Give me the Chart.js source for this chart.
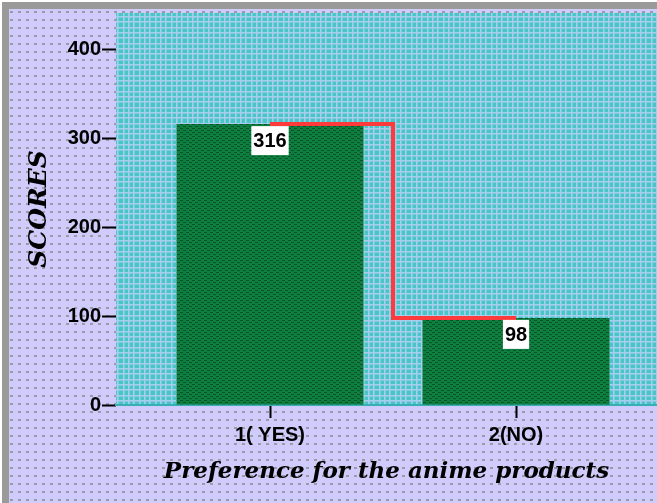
<!DOCTYPE html>
<html>
<head>
<meta charset="utf-8">
<script src="https://cdn.jsdelivr.net/npm/chart.js@4/dist/chart.umd.min.js"></script>
<style>
html,body{margin:0;padding:0;background:#fff;}
#c{display:block;}
</style>
</head>
<body>
<canvas id="c" width="657" height="503"></canvas>
<script>
const categories = ["1( YES)", "2(NO)"];
const categoryPositions = [1, 2];
const scores = [316, 98];
const yTicks = [0, 100, 200, 300, 400];
const yTitle = "SCORES";
const xTitle = "Preference for the anime products";

function makePattern(w, h, bg, drawFn) {
  const c = document.createElement('canvas');
  c.width = w; c.height = h;
  const g = c.getContext('2d');
  g.fillStyle = bg; g.fillRect(0, 0, w, h);
  drawFn(g);
  return c;
}
const ctx = document.getElementById('c').getContext('2d');
const lavTile = makePattern(8, 8, '#cfccfb', g => {
  g.fillStyle = '#9d9aa8'; g.fillRect(2, 3, 3, 2);
});
const tealTile = makePattern(16, 16, '#48c6c6', g => {
  g.fillStyle = '#a9cdee';
  [0, 5, 11].forEach(p => { g.fillRect(p, 0, 1.5, 16); g.fillRect(0, p, 16, 1.5); });
});
const greenTile = makePattern(6, 4, '#0e7f3e', g => {
  g.fillStyle = '#06552a';
  g.fillRect(0, 0, 3, 1); g.fillRect(3, 2, 3, 1);
});
const lavPattern = ctx.createPattern(lavTile, 'repeat');
const tealPattern = ctx.createPattern(tealTile, 'repeat');
const greenPattern = ctx.createPattern(greenTile, 'repeat');

const bgPlugin = {
  id: 'bg',
  beforeDraw(chart) {
    const c = chart.ctx, a = chart.chartArea;
    c.save();
    c.fillStyle = lavPattern;
    c.fillRect(0, 0, chart.width, chart.height);
    c.fillStyle = '#ffffff';
    c.fillRect(0, 0, chart.width, 2);
    c.fillRect(0, 0, 2, chart.height);
    c.fillStyle = '#9a9a9a';
    c.fillRect(2, 2, chart.width - 2, 7);
    c.fillRect(2, 2, 7, chart.height - 2);
    c.fillStyle = tealPattern;
    c.fillRect(a.left, a.top, a.right - a.left, a.bottom - a.top);
    c.restore();
  }
};

const labelPlugin = {
  id: 'vals',
  afterDatasetsDraw(chart) {
    const meta = chart.getDatasetMeta(1);
    const c = chart.ctx;
    c.save();
    c.font = 'bold 20px "Liberation Sans", Arial, sans-serif';
    c.textAlign = 'center';
    c.textBaseline = 'middle';
    meta.data.forEach((el, i) => {
      const txt = String(scores[i]);
      const w = c.measureText(txt).width + 4;
      const h = 29;
      const top = el.y + 2;
      c.fillStyle = '#ffffff';
      c.fillRect(el.x - w / 2, top, w, h);
      c.fillStyle = '#000000';
      c.fillText(txt, el.x, top + h / 2 + 1);
    });
    c.restore();
  }
};

const pts = categoryPositions.map((x, i) => ({x: x, y: scores[i]}));

new Chart(ctx, {
  data: {
    datasets: [
      {
        type: 'line',
        data: pts,
        stepped: 'middle',
        borderColor: '#ff3a3a',
        borderWidth: 4,
        pointRadius: 0,
        fill: false,
        order: 0
      },
      {
        type: 'bar',
        data: pts,
        backgroundColor: greenPattern,
        borderWidth: 0,
        barPercentage: 0.76,
        categoryPercentage: 1,
        order: 1
      }
    ]
  },
  options: {
    responsive: false,
    animation: false,
    layout: {padding: {top: 12, left: 0, right: 0, bottom: 0}},
    plugins: {legend: {display: false}, tooltip: {enabled: false}},
    scales: {
      x: {
        type: 'linear',
        offset: false,
        min: 0.374,
        max: 2.573,
        afterBuildTicks(scale) { scale.ticks = categoryPositions.map(v => ({value: v})); },
        afterFit(scale) { scale.height = 98; },
        ticks: {
          callback: (v) => categories[categoryPositions.indexOf(v)],
          font: {family: '"Liberation Sans", Arial, sans-serif', size: 20, weight: 'bold'},
          color: '#000',
          padding: 5,
          maxRotation: 0,
          autoSkip: false
        },
        grid: {offset: false, drawOnChartArea: false, drawTicks: true, tickLength: 13, tickWidth: 2, tickColor: '#000'},
        border: {display: true, color: '#3aaeb2', width: 2},
        title: {
          display: true,
          text: xTitle,
          font: {family: '"DejaVu Serif", serif', size: 23, weight: 'bold', style: 'italic'},
          color: '#000',
          padding: {top: 0, bottom: 17}
        }
      },
      y: {
        min: 0,
        max: 441,
        afterBuildTicks(scale) { scale.ticks = yTicks.map(v => ({value: v})); },
        afterFit(scale) { scale.width = 116; },
        ticks: {
          font: {family: '"Liberation Sans", Arial, sans-serif', size: 20, weight: 'bold'},
          color: '#000',
          padding: 1
        },
        grid: {drawOnChartArea: false, drawTicks: true, tickLength: 14, tickWidth: 2, tickColor: '#000'},
        border: {display: false},
        title: {
          display: true,
          text: yTitle,
          font: {family: '"DejaVu Serif", serif', size: 25, weight: 'bold', style: 'italic'},
          color: '#000',
          padding: {top: 24, bottom: 0}
        }
      }
    }
  },
  plugins: [bgPlugin, labelPlugin]
});
</script>
</body>
</html>
